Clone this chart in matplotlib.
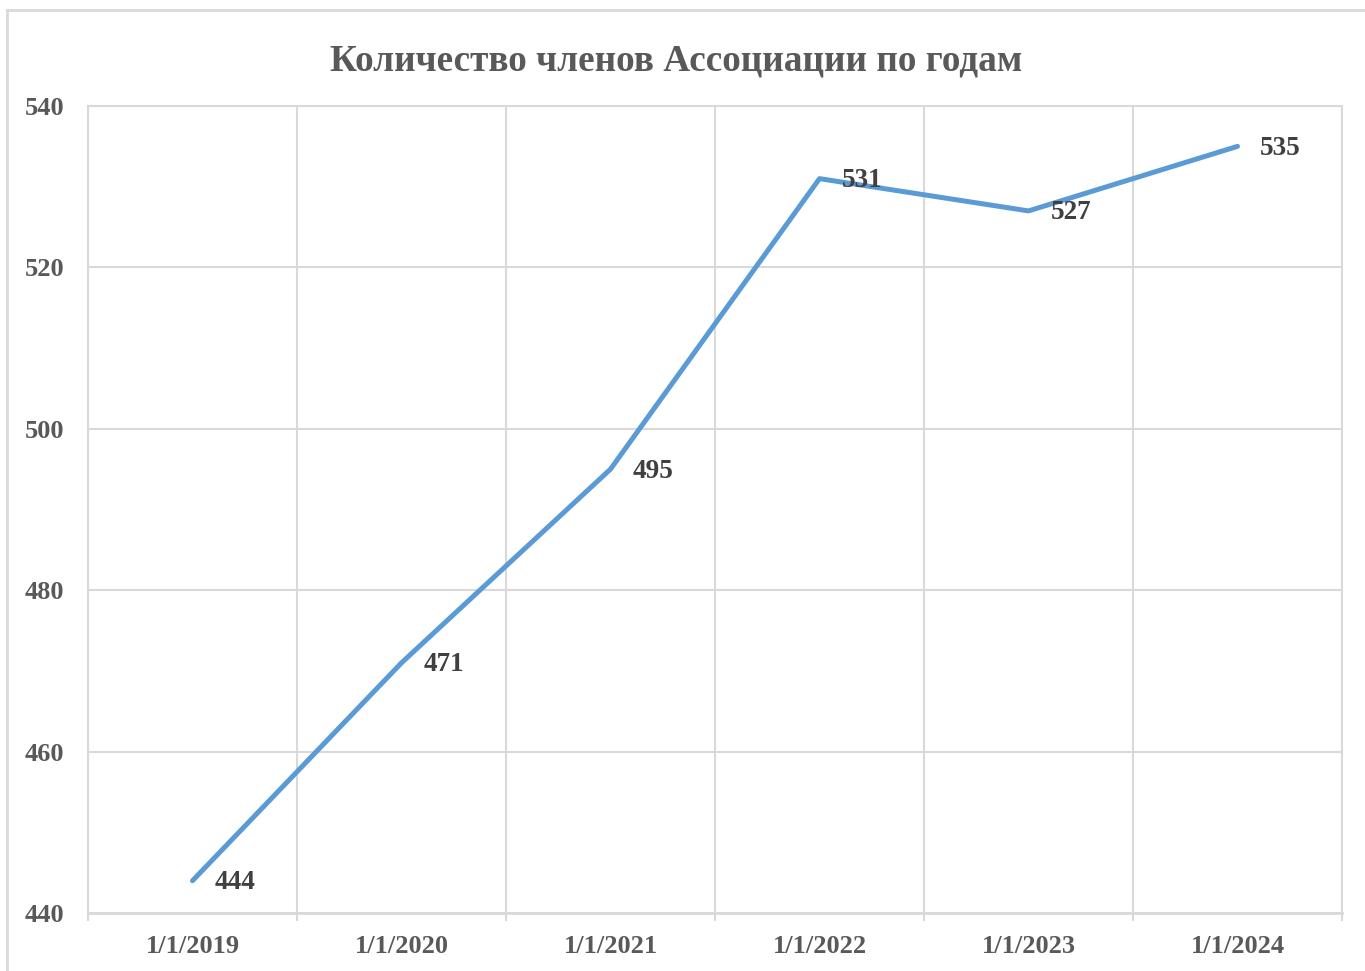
import matplotlib.pyplot as plt
from matplotlib.lines import Line2D

dates = ['1/1/2019', '1/1/2020', '1/1/2021', '1/1/2022', '1/1/2023', '1/1/2024']
members = [444, 471, 495, 531, 527, 535]
title = 'Количество членов Ассоциации по годам'

plt.rcParams['font.family'] = ['Liberation Serif', 'DejaVu Serif']

fig = plt.figure(figsize=(13.65, 9.71), dpi=100)
ax = fig.add_axes([88/1365, 58/971, 1254/1365, 807/971])

# frame of the chart area (only top and left are visible in the crop)
fig.add_artist(Line2D([7/1365, 7/1365], [0, 961/971], color='#d9d9d9', lw=2, transform=fig.transFigure))
fig.add_artist(Line2D([7/1365, 1], [961/971, 961/971], color='#d9d9d9', lw=2, transform=fig.transFigure))

x = list(range(len(dates)))
ax.plot(x, members, color='#5b9bd5', lw=3.6, solid_capstyle='round', solid_joinstyle='round', zorder=3)

for xi, v in zip(x, members):
    ax.annotate(str(v), (xi, v), xytext=(16, -1.5), textcoords='offset points',
                ha='left', va='center', fontsize=19.5, fontweight='bold', color='#404040', zorder=4)

ax.set_xlim(-0.5, len(dates) - 0.5)
ax.set_ylim(440, 540)
ax.set_yticks(range(440, 541, 20))
ax.set_xticks(x)
ax.set_xticklabels(dates)
ax.set_xticks([i - 0.5 for i in range(len(dates) + 1)], minor=True)

ax.grid(True, which='major', axis='y', color='#d9d9d9', lw=1.5)
ax.grid(True, which='minor', axis='x', color='#d9d9d9', lw=1.5)
ax.set_axisbelow(True)

ax.tick_params(axis='x', which='major', length=0, pad=16, labelsize=19, labelcolor='#595959')
ax.tick_params(axis='x', which='minor', length=6, width=1.5, color='#d9d9d9', direction='out')
ax.tick_params(axis='y', length=0, pad=17, labelsize=19, labelcolor='#595959')
for lab in ax.get_xticklabels() + ax.get_yticklabels():
    lab.set_fontweight('bold')

for s in ax.spines.values():
    s.set_color('#d9d9d9')
    s.set_linewidth(1.5)
ax.spines['bottom'].set_linewidth(2)

fig.text(676/1365, 1 - 61/971, title, ha='center', va='center', fontsize=26.8,
         fontweight='bold', color='#595959')

fig.savefig('out.png', dpi=100)
